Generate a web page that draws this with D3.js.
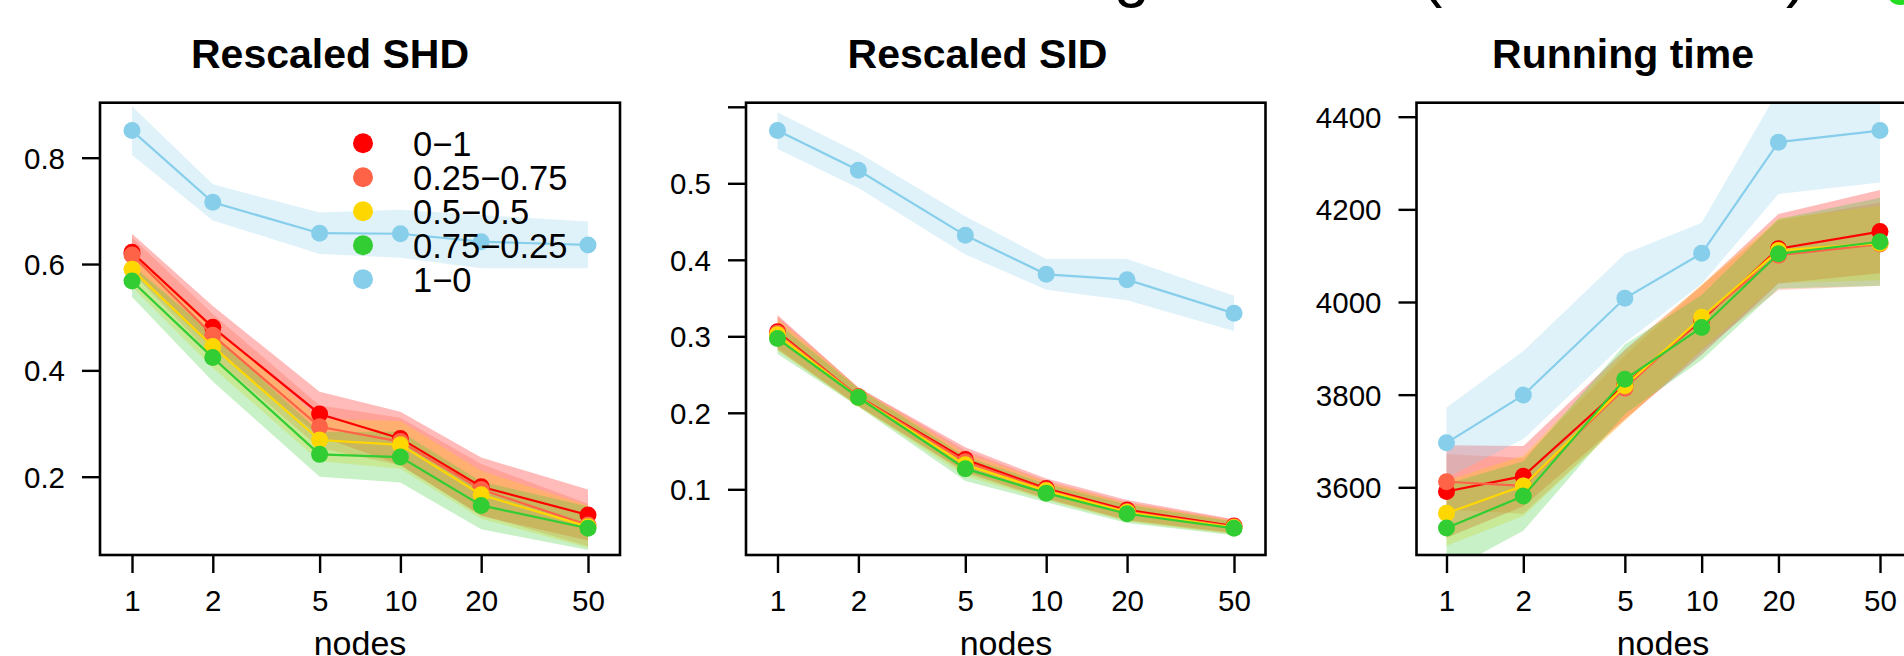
<!DOCTYPE html>
<html>
<head>
<meta charset="utf-8">
<script src="https://cdn.jsdelivr.net/npm/d3@7"></script>
<style>
  html, body { margin: 0; padding: 0; background: #fff; overflow: hidden; }
  svg { display: block; font-family: "Liberation Sans", Arial, Helvetica, sans-serif; }
</style>
</head>
<body>
<svg id="chart" width="1904" height="656"></svg>
<script>
// ---------------- data ----------------
const nodes = [1, 2, 5, 10, 20, 50];
const xTickLabels = ["1", "2", "5", "10", "20", "50"];
const seriesLabels = ["0\u22121", "0.25\u22120.75", "0.5\u22120.5", "0.75\u22120.25", "1\u22120"];

const shdMean = [
  [0.622, 0.481, 0.318, 0.272, 0.181, 0.128],
  [0.617, 0.466, 0.294, 0.266, 0.176, 0.109],
  [0.590, 0.445, 0.269, 0.260, 0.166, 0.106],
  [0.568, 0.424, 0.242, 0.237, 0.146, 0.103],
  [0.851, 0.716, 0.658, 0.657, 0.642, 0.636]
];
const shdErr = [
  [0.035, 0.040, 0.042, 0.050, 0.055, 0.048],
  [0.033, 0.040, 0.040, 0.045, 0.048, 0.040],
  [0.033, 0.040, 0.040, 0.045, 0.045, 0.040],
  [0.030, 0.045, 0.042, 0.048, 0.045, 0.041],
  [0.046, 0.034, 0.039, 0.045, 0.050, 0.044]
];
const shdTicks = [0.2, 0.4, 0.6, 0.8];
const shdTickLabels = ["0.2", "0.4", "0.6", "0.8"];

const sidMean = [
  [0.306, 0.221, 0.139, 0.101, 0.073, 0.052],
  [0.304, 0.221, 0.136, 0.099, 0.071, 0.051],
  [0.302, 0.220, 0.132, 0.098, 0.070, 0.050],
  [0.297, 0.220, 0.127, 0.095, 0.068, 0.049],
  [0.569, 0.517, 0.432, 0.381, 0.374, 0.330]
];
const sidErr = [
  [0.022, 0.012, 0.016, 0.013, 0.013, 0.009],
  [0.022, 0.012, 0.015, 0.012, 0.012, 0.009],
  [0.021, 0.012, 0.015, 0.012, 0.012, 0.009],
  [0.020, 0.012, 0.016, 0.012, 0.012, 0.009],
  [0.024, 0.023, 0.025, 0.020, 0.027, 0.023]
];
const sidTicks = [0.1, 0.2, 0.3, 0.4, 0.5, 0.6];
const sidTickLabels = ["0.1", "0.2", "0.3", "0.4", "0.5", ""];

const timeMean = [
  [3591, 3624, 3822, 3961, 4115, 4152],
  [3612, 3603, 3814, 3965, 4101, 4125],
  [3544, 3603, 3819, 3967, 4111, 4127],
  [3512, 3581, 3833, 3945, 4104, 4130],
  [3696, 3799, 4008, 4105, 4345, 4370]
];
const timeErr = [
  [100, 65, 75, 75, 75, 90],
  [60, 60, 70, 70, 75, 90],
  [70, 65, 75, 70, 70, 80],
  [95, 75, 75, 70, 75, 95],
  [76, 95, 96, 66, 112, 112]
];
const timeTicks = [3600, 3800, 4000, 4200, 4400];
const timeTickLabels = ["3600", "3800", "4000", "4200", "4400"];

const titles = ["Rescaled SHD", "Rescaled SID", "Running time"];
const xAxisTitle = "nodes";
const topFragments = ["g", "(", "/", ")"];

// ---------------- styles / layout ----------------
const colors = ["#FF0000", "#FF6347", "#FFD700", "#32CD32", "#87CEEB"];
const bandAlpha = 0.27;
const boxTop = 102.7, boxBottom = 555;

const panels = [
  { title: titles[0], mean: shdMean, err: shdErr, ticks: shdTicks, tickLabels: shdTickLabels,
    bx: [100, 620], xr: [132, 588], yd: [0.2, 0.8], yr: [476.7, 157.7], titleX: 330, labelX: 360, legend: true },
  { title: titles[1], mean: sidMean, err: sidErr, ticks: sidTicks, tickLabels: sidTickLabels,
    bx: [746, 1265.5], xr: [777.5, 1234], yd: [0.1, 0.5], yr: [489.3, 183.3], titleX: 977.5, labelX: 1006, legend: false },
  { title: titles[2], mean: timeMean, err: timeErr, ticks: timeTicks, tickLabels: timeTickLabels,
    bx: [1416.5, 1910], xr: [1446.5, 1880], yd: [3600, 4400], yr: [487.3, 116.7], titleX: 1623, labelX: 1663, legend: false }
];

const svg = d3.select("#chart");
svg.append("rect").attr("width", 1904).attr("height", 656).attr("fill", "#fff");

// fragments of a cut-off heading at the very top
const fragX = [1114, 1421, 1583, 1786];
svg.append("g").selectAll("text").data(topFragments).join("text")
  .attr("x", (d, i) => fragX[i]).attr("y", -5)
  .attr("font-size", 64).attr("fill", "#000").text(d => d);
svg.append("circle").attr("cx", 1900).attr("cy", -8).attr("r", 13).attr("fill", "#22DD22");

panels.forEach((p, pi) => {
  const g = svg.append("g");
  const x = d3.scaleLog().domain([nodes[0], nodes[nodes.length - 1]]).range(p.xr);
  const y = d3.scaleLinear().domain(p.yd).range(p.yr);

  const clipId = "clip" + pi;
  svg.append("clipPath").attr("id", clipId).append("rect")
    .attr("x", p.bx[0]).attr("y", boxTop)
    .attr("width", p.bx[1] - p.bx[0]).attr("height", boxBottom - boxTop);

  const plot = g.append("g").attr("clip-path", `url(#${clipId})`);

  const area = d3.area()
    .x((d, i) => x(nodes[i]))
    .y0(d => y(d[0] - d[1]))
    .y1(d => y(d[0] + d[1]));
  const line = d3.line().x((d, i) => x(nodes[i])).y(d => y(d));

  // bands
  p.mean.forEach((m, s) => {
    const pts = m.map((v, i) => [v, p.err[s][i]]);
    plot.append("path").attr("d", area(pts))
      .attr("fill", colors[s]).attr("fill-opacity", bandAlpha).attr("stroke", "none");
  });
  // lines and points
  p.mean.forEach((m, s) => {
    plot.append("path").attr("d", line(m))
      .attr("fill", "none").attr("stroke", colors[s]).attr("stroke-width", 2.2);
    plot.append("g").selectAll("circle").data(m).join("circle")
      .attr("cx", (d, i) => x(nodes[i])).attr("cy", d => y(d))
      .attr("r", 8.5).attr("fill", colors[s]);
  });

  // box
  g.append("rect").attr("x", p.bx[0]).attr("y", boxTop)
    .attr("width", p.bx[1] - p.bx[0]).attr("height", boxBottom - boxTop)
    .attr("fill", "none").attr("stroke", "#000").attr("stroke-width", 2.6);

  // y axis
  const yAxis = d3.axisLeft(y).tickValues(p.ticks)
    .tickFormat((d, i) => p.tickLabels[i]).tickSize(18).tickSizeOuter(0).tickPadding(17);
  const ya = g.append("g").attr("transform", `translate(${p.bx[0]},0)`).call(yAxis);
  ya.select(".domain").remove();
  ya.selectAll("line").attr("stroke", "#000").attr("stroke-width", 2.4);
  ya.selectAll("text").attr("font-size", 29.5).attr("fill", "#000")
    .attr("font-family", "'Liberation Sans', Arial, Helvetica, sans-serif").attr("dy", "0.36em");

  // x axis
  const xAxis = d3.axisBottom(x).tickValues(nodes)
    .tickFormat((d, i) => xTickLabels[i]).tickSize(18).tickSizeOuter(0).tickPadding(17);
  const xa = g.append("g").attr("transform", `translate(0,${boxBottom})`).call(xAxis);
  xa.select(".domain").remove();
  xa.selectAll("line").attr("stroke", "#000").attr("stroke-width", 2.4);
  xa.selectAll("text").attr("font-size", 29.5).attr("fill", "#000")
    .attr("font-family", "'Liberation Sans', Arial, Helvetica, sans-serif");

  // title
  g.append("text").attr("x", p.titleX).attr("y", 68.3).attr("text-anchor", "middle")
    .attr("font-size", 41).attr("font-weight", "bold").attr("fill", "#000").text(p.title);

  // x axis title
  g.append("text").attr("x", p.labelX)
    .attr("y", 655).attr("text-anchor", "middle")
    .attr("font-size", 34).attr("fill", "#000").text(xAxisTitle);

  // legend
  if (p.legend) {
    const lg = g.append("g");
    const rowY = [143.3, 177.3, 211.3, 245.3, 279.3];
    seriesLabels.forEach((lab, s) => {
      lg.append("circle").attr("cx", 363).attr("cy", rowY[s]).attr("r", 10).attr("fill", colors[s]);
      lg.append("text").attr("x", 413).attr("y", rowY[s]).attr("dy", "0.36em")
        .attr("font-size", 34.5).attr("fill", "#000").text(lab);
    });
  }
});
</script>
</body>
</html>
